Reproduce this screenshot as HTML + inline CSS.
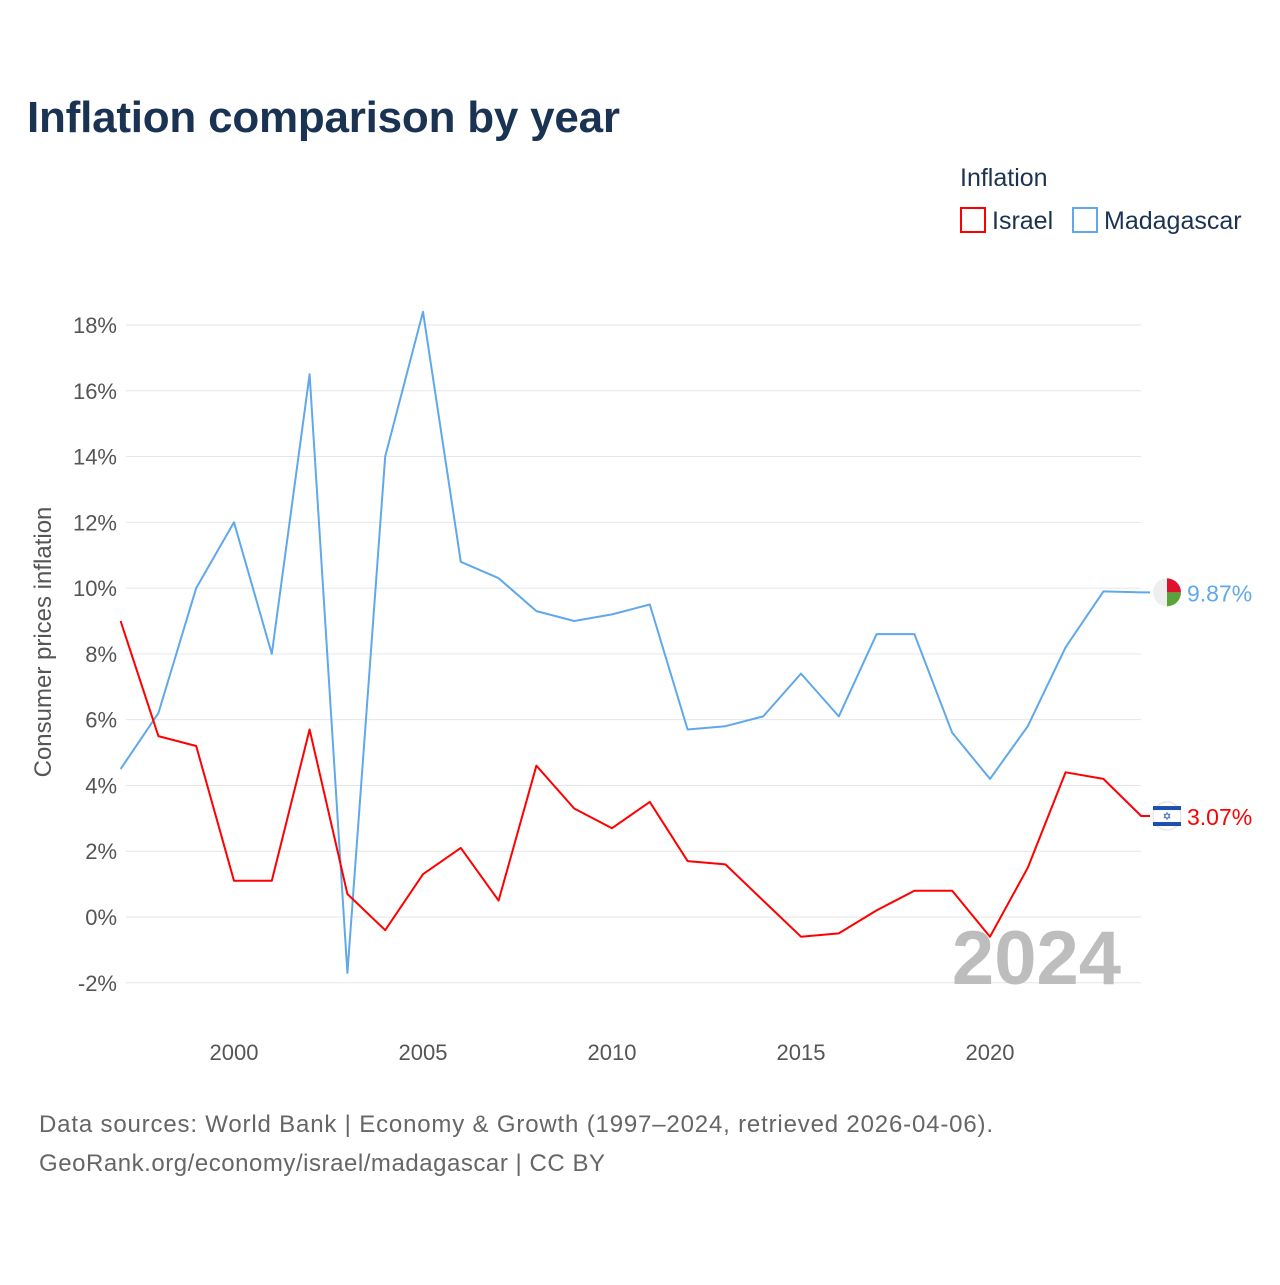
<!DOCTYPE html>
<html><head><meta charset="utf-8"><style>
body{margin:0;background:#fff;font-family:"Liberation Sans",sans-serif;}
svg text{font-family:"Liberation Sans",sans-serif;}
</style></head><body>
<svg width="1280" height="1280" viewBox="0 0 1280 1280">
<text x="27" y="132" font-size="44" font-weight="bold" fill="#1b3352" textLength="593">Inflation comparison by year</text>
<text x="960" y="186" font-size="25" fill="#1b3352">Inflation</text>
<g><rect x="961" y="208" width="24" height="24" fill="none" stroke="#f00" stroke-width="2"/><text x="992" y="229" font-size="25" fill="#1b3352">Israel</text></g>
<g><rect x="1073" y="208" width="24" height="24" fill="none" stroke="#5fa8ec" stroke-width="2"/><text x="1104" y="229" font-size="25" fill="#1b3352">Madagascar</text></g>
<g id="grid"></g>
<g id="yticks"></g>
<g id="xticks"></g>
<text transform="translate(51,642) rotate(-90)" text-anchor="middle" font-size="24" fill="#555">Consumer prices inflation</text>
<text x="1121" y="984" text-anchor="end" font-size="76" font-weight="bold" fill="#bdbdbd">2024</text>
<g id="series"></g>
<text x="39" y="1132" font-size="24" fill="#666" textLength="954">Data sources: World Bank | Economy &amp; Growth (1997–2024, retrieved 2026-04-06).</text>
<text x="39" y="1171" font-size="24" fill="#666" textLength="566">GeoRank.org/economy/israel/madagascar | CC BY</text>
</svg>
<script>
const years=[1997,1998,1999,2000,2001,2002,2003,2004,2005,2006,2007,2008,2009,2010,2011,2012,2013,2014,2015,2016,2017,2018,2019,2020,2021,2022,2023,2024];
const madagascar=[4.5,6.2,10.0,12.0,8.0,16.5,-1.7,14.0,18.4,10.8,10.3,9.3,9.0,9.2,9.5,5.7,5.8,6.1,7.4,6.1,8.6,8.6,5.6,4.2,5.8,8.2,9.9,9.87];
const israel=[9.0,5.5,5.2,1.1,1.1,5.7,0.7,-0.4,1.3,2.1,0.5,4.6,3.3,2.7,3.5,1.7,1.6,0.5,-0.6,-0.5,0.2,0.8,0.8,-0.6,1.5,4.4,4.2,3.07];
const yTicks=[-2,0,2,4,6,8,10,12,14,16,18];
const xTicks=[2000,2005,2010,2015,2020];
const NS="http://www.w3.org/2000/svg";
const X=y=>120.6+(y-1997)*37.8;
const Y=v=>917-v*32.89;
function mk(tag,attrs,parent){const e=document.createElementNS(NS,tag);for(const k in attrs)e.setAttribute(k,attrs[k]);parent.appendChild(e);return e;}
const grid=document.getElementById('grid'),yt=document.getElementById('yticks'),xt=document.getElementById('xticks'),ser=document.getElementById('series');
yTicks.forEach(t=>{
 const l=mk('line',{x1:126,x2:1141,y1:Y(t),y2:Y(t),stroke:'#e6e6e6','stroke-width':1},grid);
 
 
 const tx=mk('text',{x:117,y:Y(t)+8,'text-anchor':'end','font-size':22,fill:'#555'},yt);
 tx.textContent=t+'%';
 
 
});
xTicks.forEach(t=>{
 const tx=mk('text',{x:X(t),y:1060,'text-anchor':'middle','font-size':22,fill:'#555'},xt);
 tx.textContent=t;
 
 
});
function line(vals,color,name){
 let d=vals.map((v,i)=>(i?'L':'M')+X(years[i]).toFixed(1)+','+Y(v).toFixed(1)).join(' ');
 d+=' L1150,'+Y(vals[vals.length-1]).toFixed(1);
 const p=mk('path',{d:d,fill:'none',stroke:color,'stroke-width':2,'stroke-linejoin':'round'},ser);
 
 
 const v=vals[vals.length-1],cy=Y(v);
 const g=mk('g',{},ser);
 
 
 if(name==='madagascar'){
  mk('circle',{cx:1167,cy:cy,r:14,fill:'#eee'},g);
  mk('path',{d:`M1167,${cy} L1167,${cy-14} A14,14 0 0,1 1181,${cy} Z`,fill:'#e0102f'},g);
  mk('path',{d:`M1167,${cy} L1181,${cy} A14,14 0 0,1 1167,${cy+14} Z`,fill:'#5aa33a'},g);
 }else{
  mk('circle',{cx:1167,cy:cy,r:14,fill:'#fff',stroke:'#ddd'},g);
  mk('rect',{x:1153,y:cy-10,width:28,height:4,fill:'#1c4fb0'},g);
  mk('rect',{x:1153,y:cy+6,width:28,height:4,fill:'#1c4fb0'},g);
  const s=mk('text',{x:1167,y:cy+4,'text-anchor':'middle','font-size':11,fill:'#1c4fb0'},g);s.textContent='✡';
 }
 const t=mk('text',{x:1187,y:cy+9,'font-size':23,fill:color},ser);
 t.textContent=v.toFixed(2)+'%';
 
 
}
line(madagascar,'#5fa8ec','madagascar');
line(israel,'#f00','israel');
</script>
</body></html>
